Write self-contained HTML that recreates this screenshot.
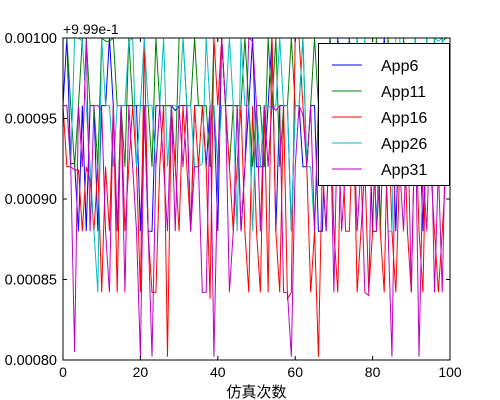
<!DOCTYPE html>
<html><head><meta charset="utf-8"><style>
body{margin:0;background:#fff;}
svg{display:block;font-family:"Liberation Sans","Noto Sans CJK SC",sans-serif;}
</style></head><body>
<svg id="chart" width="500" height="400" xmlns="http://www.w3.org/2000/svg">
<rect width="500" height="400" fill="#fff"/>
<g id="series"></g>
<g id="axes"></g>
</svg>
<script>
const xTicks=[0,20,40,60,80,100];
const yTicks=[0.80,0.85,0.90,0.95,1.00];
const yTickLabels=["0.00080","0.00085","0.00090","0.00095","0.00100"];
const seriesNames=["App6","App11","App16","App26","App31"];
const seriesColors=["#0000ff","#008000","#ff0000","#00bfbf","#bf00bf"];
const app6=[0.958,1.0,0.922,0.922,0.88,0.958,0.88,0.958,0.958,0.88,0.958,0.958,1.0,0.958,0.88,0.958,0.958,0.958,0.958,0.958,0.88,0.958,0.88,0.88,0.958,0.958,0.958,0.958,0.958,0.955,0.958,0.958,0.958,0.88,0.958,0.958,0.958,0.92,0.958,0.958,0.88,1.0,0.958,0.958,0.958,0.958,0.88,0.92,0.958,1.0,0.92,0.92,0.92,0.958,1.0,0.88,0.958,0.958,0.958,0.88,0.958,0.958,0.92,0.92,0.958,0.958,0.88,0.88,0.958,1.0,0.958,1.0,0.958,0.958,1.0,0.958,0.958,0.958,0.958,0.958,0.88,0.88,0.958,1.0,0.958,0.958,0.88,0.958,0.958,0.958,0.958,0.958,0.958,0.88,0.958,0.958,0.958,0.958,0.958,0.958];
const app11=[1.0,1.0,0.958,0.92,0.958,1.0,1.0,0.958,0.958,0.92,1.0,0.998,0.998,1.0,0.958,0.958,0.92,1.0,0.958,0.958,0.958,0.958,0.958,0.92,1.0,0.958,0.958,0.958,0.958,0.92,1.0,1.0,0.958,0.958,1.0,0.958,0.958,0.958,0.92,1.0,1.0,1.0,0.958,0.92,0.958,0.958,0.958,1.0,0.958,0.92,0.958,0.958,0.92,1.0,0.958,1.0,0.92,0.958,0.958,1.0,0.958,0.958,1.0,0.92,0.958,1.0,0.958,0.958,0.958,1.0,0.958,0.958,0.958,0.958,1.0,0.958,1.0,0.958,0.958,0.92,0.958,1.0,0.88,0.958,1.0,0.958,0.958,0.958,1.0,0.958,0.958,1.0,0.958,0.958,1.0,0.958,1.0,0.958,0.998,1.0];
const app16=[0.958,0.92,0.92,0.918,0.918,0.88,0.92,0.912,0.88,0.92,0.842,0.92,0.88,0.958,0.842,0.958,0.88,0.92,0.958,0.92,0.842,1.0,0.88,0.842,0.842,0.92,0.958,0.802,0.958,0.92,0.88,0.958,0.92,0.88,0.958,0.92,0.958,0.92,0.838,1.0,0.958,1.0,0.958,0.92,0.88,0.92,0.958,0.88,0.842,0.958,0.88,0.842,0.958,0.842,1.0,0.88,0.842,0.958,0.838,0.842,1.0,1.0,0.958,0.92,0.842,0.88,0.802,0.92,0.88,0.958,0.88,0.842,0.958,0.88,0.88,0.958,0.842,0.88,0.92,0.842,0.88,0.958,0.88,0.842,0.958,0.88,0.842,0.92,0.958,0.88,0.842,0.958,0.88,0.842,0.958,0.92,0.88,0.842,0.88,0.92];
const app26=[0.958,0.958,0.92,1.0,1.0,0.998,0.958,0.92,0.88,0.842,1.0,0.958,0.958,0.92,0.958,0.958,0.958,0.998,1.0,0.92,0.958,1.0,0.958,0.958,0.92,0.958,1.0,0.92,0.958,0.958,0.956,1.0,0.958,0.958,0.92,0.92,0.922,1.0,0.958,0.958,0.92,0.958,0.958,1.0,0.958,0.88,1.0,0.958,0.958,0.88,0.958,0.92,0.958,0.958,0.956,0.958,1.0,0.958,0.958,0.88,0.958,0.958,1.0,0.92,0.92,0.88,0.958,0.958,0.958,0.958,0.958,0.958,0.958,0.958,0.958,0.958,1.0,0.958,1.0,0.958,0.958,0.88,0.958,0.958,0.88,0.88,1.0,1.0,0.958,0.958,0.958,1.0,0.958,0.958,1.0,0.958,1.0,0.998,1.0,0.958];
const app31=[0.958,0.958,0.92,0.805,0.958,0.92,1.0,0.88,0.958,0.958,0.955,0.88,0.842,0.958,0.88,0.958,0.842,0.958,0.92,0.88,0.802,0.958,0.88,0.802,0.92,0.958,0.92,0.88,0.958,0.88,0.958,0.92,0.958,0.88,0.92,0.92,0.842,0.842,0.958,0.802,0.92,1.0,0.958,0.842,0.88,0.958,0.88,0.92,1.0,0.998,0.958,0.88,0.958,0.92,0.958,0.955,0.958,0.842,0.842,0.802,0.92,0.958,0.952,0.92,0.958,0.88,0.958,0.92,0.88,0.958,0.842,0.958,0.88,0.92,0.958,0.958,0.88,0.92,0.842,0.84,0.958,0.88,0.92,0.958,0.88,0.802,0.958,0.92,0.88,0.958,0.842,0.958,0.802,0.92,0.88,0.958,0.842,0.92,0.842,0.958];
const seriesValues=[app6,app11,app16,app26,app31];

const L=63,R=450,T=38,B=360;
const xs=v=>L+(v-0)/(100-0)*(R-L);
const ys=v=>B-(v-0.80)/(1.00-0.80)*(B-T);
const NS="http://www.w3.org/2000/svg";
function mk(tag,attrs,parent){const e=document.createElementNS(NS,tag);for(const k in attrs)e.setAttribute(k,attrs[k]);parent.appendChild(e);return e;}
const sg=document.getElementById('series'), ag=document.getElementById('axes');
const clip=mk('clipPath',{id:'pc'},document.getElementById('chart'));
mk('rect',{x:L,y:T,width:R-L,height:B-T},clip);
sg.setAttribute('clip-path','url(#pc)');
seriesValues.forEach((vals,si)=>{
  const pts=vals.map((v,i)=>xs(i)+','+ys(v)).join(' ');
  const pl=mk('polyline',{points:pts,fill:'none',stroke:seriesColors[si],'stroke-width':1},sg);
  
  
});
const frame=mk('rect',{x:L,y:T,width:R-L,height:B-T,fill:'none',stroke:'#000','stroke-width':1},ag);


xTicks.forEach(t=>{
  const x=xs(t);
  mk('line',{x1:x,x2:x,y1:B,y2:B-4,stroke:'#000'},ag);
  mk('line',{x1:x,x2:x,y1:T,y2:T+4,stroke:'#000'},ag);
  const tx=mk('text',{x:x,y:B+17,'text-anchor':'middle','font-size':14},ag);
  tx.textContent=t;
  
  
});
yTicks.forEach((t,i)=>{
  const y=ys(t);
  mk('line',{x1:L,x2:L+4,y1:y,y2:y,stroke:'#000'},ag);
  mk('line',{x1:R,x2:R-4,y1:y,y2:y,stroke:'#000'},ag);
  const tx=mk('text',{x:L-6,y:y+5,'text-anchor':'end','font-size':14.5},ag);
  tx.textContent=yTickLabels[i];
  
  
});
const off=mk('text',{x:L,y:T-4,'font-size':14},ag);
off.textContent='+9.99e-1';


const xl=mk('text',{x:(L+R)/2,y:397,'text-anchor':'middle','font-size':15},ag);
xl.textContent='仿真次数';


const lg=mk('g',{},ag);


mk('rect',{x:318.5,y:43.5,width:131,height:142,fill:'#fff',stroke:'#000','stroke-width':1},lg);
seriesNames.forEach((n,i)=>{
  const y=65+i*26;
  mk('line',{x1:332,x2:362,y1:y,y2:y,stroke:seriesColors[i],'stroke-width':1},lg);
  const tx=mk('text',{x:381,y:y+6,'font-size':16},lg);
  tx.textContent=n;
  
  
});
</script>
</body></html>
